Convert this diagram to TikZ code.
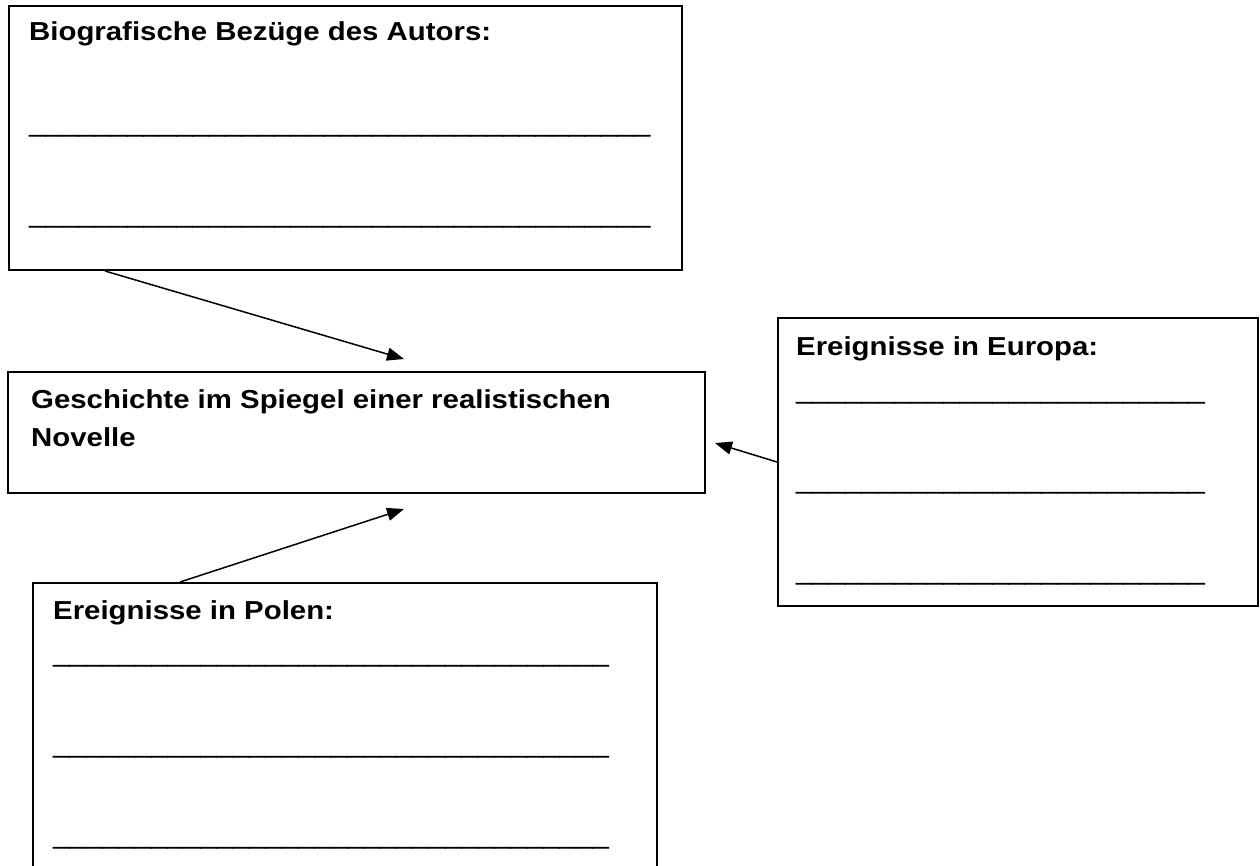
\documentclass[tikz,border=0pt]{standalone}
\usepackage{fontspec}
\setmainfont[FakeStretch=1.13]{Liberation Sans}
\newfontfamily\strichfont[FakeStretch=1.13,FakeBold=2.5]{Liberation Sans}
\usetikzlibrary{arrows.meta}
\tikzset{
  kasten/.style={draw, line width=2pt, anchor=north west, inner sep=0pt},
  titel/.style={anchor=base west, inner sep=0pt, font=\fontsize{26}{30}\selectfont\bfseries},
  strich/.style={anchor=base west, inner sep=0pt, font=\fontsize{26}{30}\strichfont\bfseries},
  pfeil/.style={line width=1.5pt, -{Triangle[length=17pt,width=13pt]}}
}
\newcommand{\blanks}[1]{\foreach \k in {1,...,#1}{\_}}

\begin{document}
\begin{tikzpicture}[x=1pt,y=-1pt]
    % Page frame
    \useasboundingbox (0,0) rectangle (1260,865);
    \clip (0,0) rectangle (1260,865);

    % Draw the boxes
    \node[kasten, minimum width=673pt, minimum height=264pt] (bio) at (8,5) {};
    \node[kasten, minimum width=697pt, minimum height=121pt] (geschichte) at (7,371) {};
    \node[kasten, minimum width=480pt, minimum height=288pt] (europa) at (777,317) {};
    \node[kasten, minimum width=624pt, minimum height=320pt] (polen) at (32,582) {};

    % Box texts
    \node[titel] (biotitel) at (29,40) {Biografische Bezüge des Autors:};
    \node[strich] (bioblank1) at (29,133) {\blanks{38}};
    \node[strich] (bioblank2) at (29,224) {\blanks{38}};

    \node[titel] (geschtitel1) at (31,408) {Geschichte im Spiegel einer realistischen};
    \node[titel] (geschtitel2) at (31,446) {Novelle};

    \node[titel] (eurotitel) at (796,355) {Ereignisse in Europa:};
    \node[strich] (euroblank1) at (796,400) {\blanks{25}};
    \node[strich] (euroblank2) at (796,490) {\blanks{25}};
    \node[strich] (euroblank3) at (796,581) {\blanks{25}};

    \node[titel] (poltitel) at (53,619) {Ereignisse in Polen:};
    \node[strich] (polblank1) at (53,663) {\blanks{34}};
    \node[strich] (polblank2) at (53,754) {\blanks{34}};
    \node[strich] (polblank3) at (53,845) {\blanks{34}};

    % Arrow ends
    \coordinate (bioziel) at (404,359);
    \coordinate (euroziel) at (715,443);
    \coordinate (polziel) at (404,509);

    % Arrows
    \draw[pfeil] ([xshift=97pt]bio.south west) -- (bioziel);
    \draw[pfeil] (europa.west) -- (euroziel);
    \draw[pfeil] ([xshift=148pt]polen.north west) -- (polziel);
\end{tikzpicture}
\end{document}
